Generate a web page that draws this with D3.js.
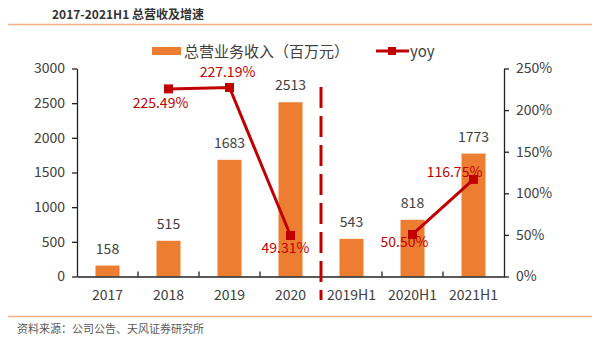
<!DOCTYPE html>
<html><head><meta charset="utf-8">
<script src="https://cdn.jsdelivr.net/npm/d3@7"></script>
<style>body{margin:0;background:#fff}svg{display:block}</style>
</head><body>
<script>
const categories = ["2017","2018","2019","2020","2019H1","2020H1","2021H1"];
const revenue = [158,515,1683,2513,543,818,1773];
const yoy = [null,225.49,227.19,49.31,null,50.50,116.75];
const yoyLabels = ["","225.49%","227.19%","49.31%","","50.50%","116.75%"];
const leftTicks = [0,500,1000,1500,2000,2500,3000];
const rightTicks = [0,50,100,150,200,250];

const W=600,H=348;
const font='"Noto Sans CJK SC","Microsoft YaHei",sans-serif';
const svg=d3.select("body").append("svg").attr("width",W).attr("height",H);
const m={l:77,r:504,t:68.5,b:276.5};
const xb=d3.scaleBand().domain(categories).range([m.l,m.r]);
const y=d3.scaleLinear().domain([0,3000]).range([m.b,m.t]);
const y2=d3.scaleLinear().domain([0,250]).range([m.b,m.t]);
const gray="#404040", red="#C00000", orange="#ED7D31";

// title
svg.append("text").attr("x",52).attr("y",18.5).attr("font-family",font).attr("font-size",12).attr("font-weight","bold").attr("fill","#333").text("2017-2021H1 总营收及增速");
svg.append("line").attr("x1",8).attr("x2",592).attr("y1",24.5).attr("y2",24.5).attr("stroke","#F4B183").attr("stroke-width",1.5);
svg.append("line").attr("x1",8).attr("x2",592).attr("y1",316.5).attr("y2",316.5).attr("stroke","#F4B183").attr("stroke-width",1.5);
svg.append("text").attr("x",17).attr("y",333).attr("font-family",font).attr("font-size",11).attr("fill","#595959").text("资料来源：公司公告、天风证券研究所");

// bars
svg.selectAll(".bar").data(revenue).join("rect")
  .attr("x",(d,i)=>xb(categories[i])+xb.bandwidth()/2-12)
  .attr("width",24)
  .attr("y",d=>y(d)).attr("height",d=>y(0)-y(d)).attr("fill",orange);
svg.selectAll(".bl").data(revenue).join("text")
  .attr("x",(d,i)=>xb(categories[i])+xb.bandwidth()/2)
  .attr("y",d=>y(d)-12).attr("text-anchor","middle")
  .attr("font-family",font).attr("font-size",14).attr("fill",gray).text(d=>d);

// axes
const ax=svg.append("g").attr("font-family",font);
const la=ax.append("g").attr("transform",`translate(${m.l},0)`).call(d3.axisLeft(y).tickValues(leftTicks).tickFormat(d3.format("d")).tickSize(5).tickPadding(7).tickSizeOuter(0));
const ra=ax.append("g").attr("transform",`translate(${m.r},0)`).call(d3.axisRight(y2).tickValues(rightTicks).tickFormat(d=>d+"%").tickSize(5).tickPadding(7).tickSizeOuter(0));
const ba=ax.append("g").attr("transform",`translate(0,${m.b})`).call(d3.axisBottom(xb).tickSize(0).tickPadding(14).tickSizeOuter(0));
[la,ra,ba].forEach(g=>{g.selectAll("text").attr("font-size",14).attr("fill",gray).attr("font-family",font);
 g.selectAll("line,path").attr("stroke","#222").attr("stroke-width",1.3);});
ax.selectAll(".sep").data(categories.slice(1)).join("line")
  .attr("x1",d=>xb(d)).attr("x2",d=>xb(d)).attr("y1",m.b).attr("y2",m.b-5).attr("stroke","#222").attr("stroke-width",1.3);

// dashed divider
const divX=xb("2019H1");
svg.append("line").attr("x1",divX).attr("x2",divX).attr("y1",87).attr("y2",300)
  .attr("stroke",red).attr("stroke-width",3).attr("stroke-dasharray","21,8");

// yoy line (two segments)
const cx=c=>xb(c)+xb.bandwidth()/2;
const pts=yoy.map((v,i)=>({c:categories[i],v,l:yoyLabels[i]}));
const seg1=pts.slice(1,4), seg2=pts.slice(5,7);
const line=d3.line().x(d=>cx(d.c)).y(d=>y2(d.v));
[seg1,seg2].forEach(s=>svg.append("path").attr("d",line(s)).attr("fill","none").attr("stroke",red).attr("stroke-width",3));
const valid=pts.filter(p=>p.v!=null);
svg.selectAll(".mk").data(valid).join("rect")
  .attr("x",d=>cx(d.c)-4.5).attr("y",d=>y2(d.v)-4.5).attr("width",9).attr("height",9).attr("fill",red);
const off={"2018":[-8,19],"2019":[-2,-10],"2020":[-5,18],"2020H1":[-8,13],"2021H1":[-19,-2]};
svg.selectAll(".yl").data(valid).join("text")
  .attr("x",d=>cx(d.c)+off[d.c][0]).attr("y",d=>y2(d.v)+off[d.c][1]).attr("text-anchor","middle")
  .attr("font-family",font).attr("font-size",14).attr("fill",red).text(d=>d.l);

// legend
svg.append("rect").attr("x",152).attr("y",47).attr("width",29).attr("height",8).attr("fill",orange);
svg.append("text").attr("x",184).attr("y",56.5).attr("font-family",font).attr("font-size",15).attr("fill",gray).text("总营业务收入（百万元）");
svg.append("line").attr("x1",376).attr("x2",409).attr("y1",51).attr("y2",51).attr("stroke",red).attr("stroke-width",3);
svg.append("rect").attr("x",388).attr("y",47).attr("width",8).attr("height",8).attr("fill",red);
svg.append("text").attr("x",410).attr("y",56.5).attr("font-family",font).attr("font-size",15).attr("fill",gray).text("yoy");
</script>
</body></html>
